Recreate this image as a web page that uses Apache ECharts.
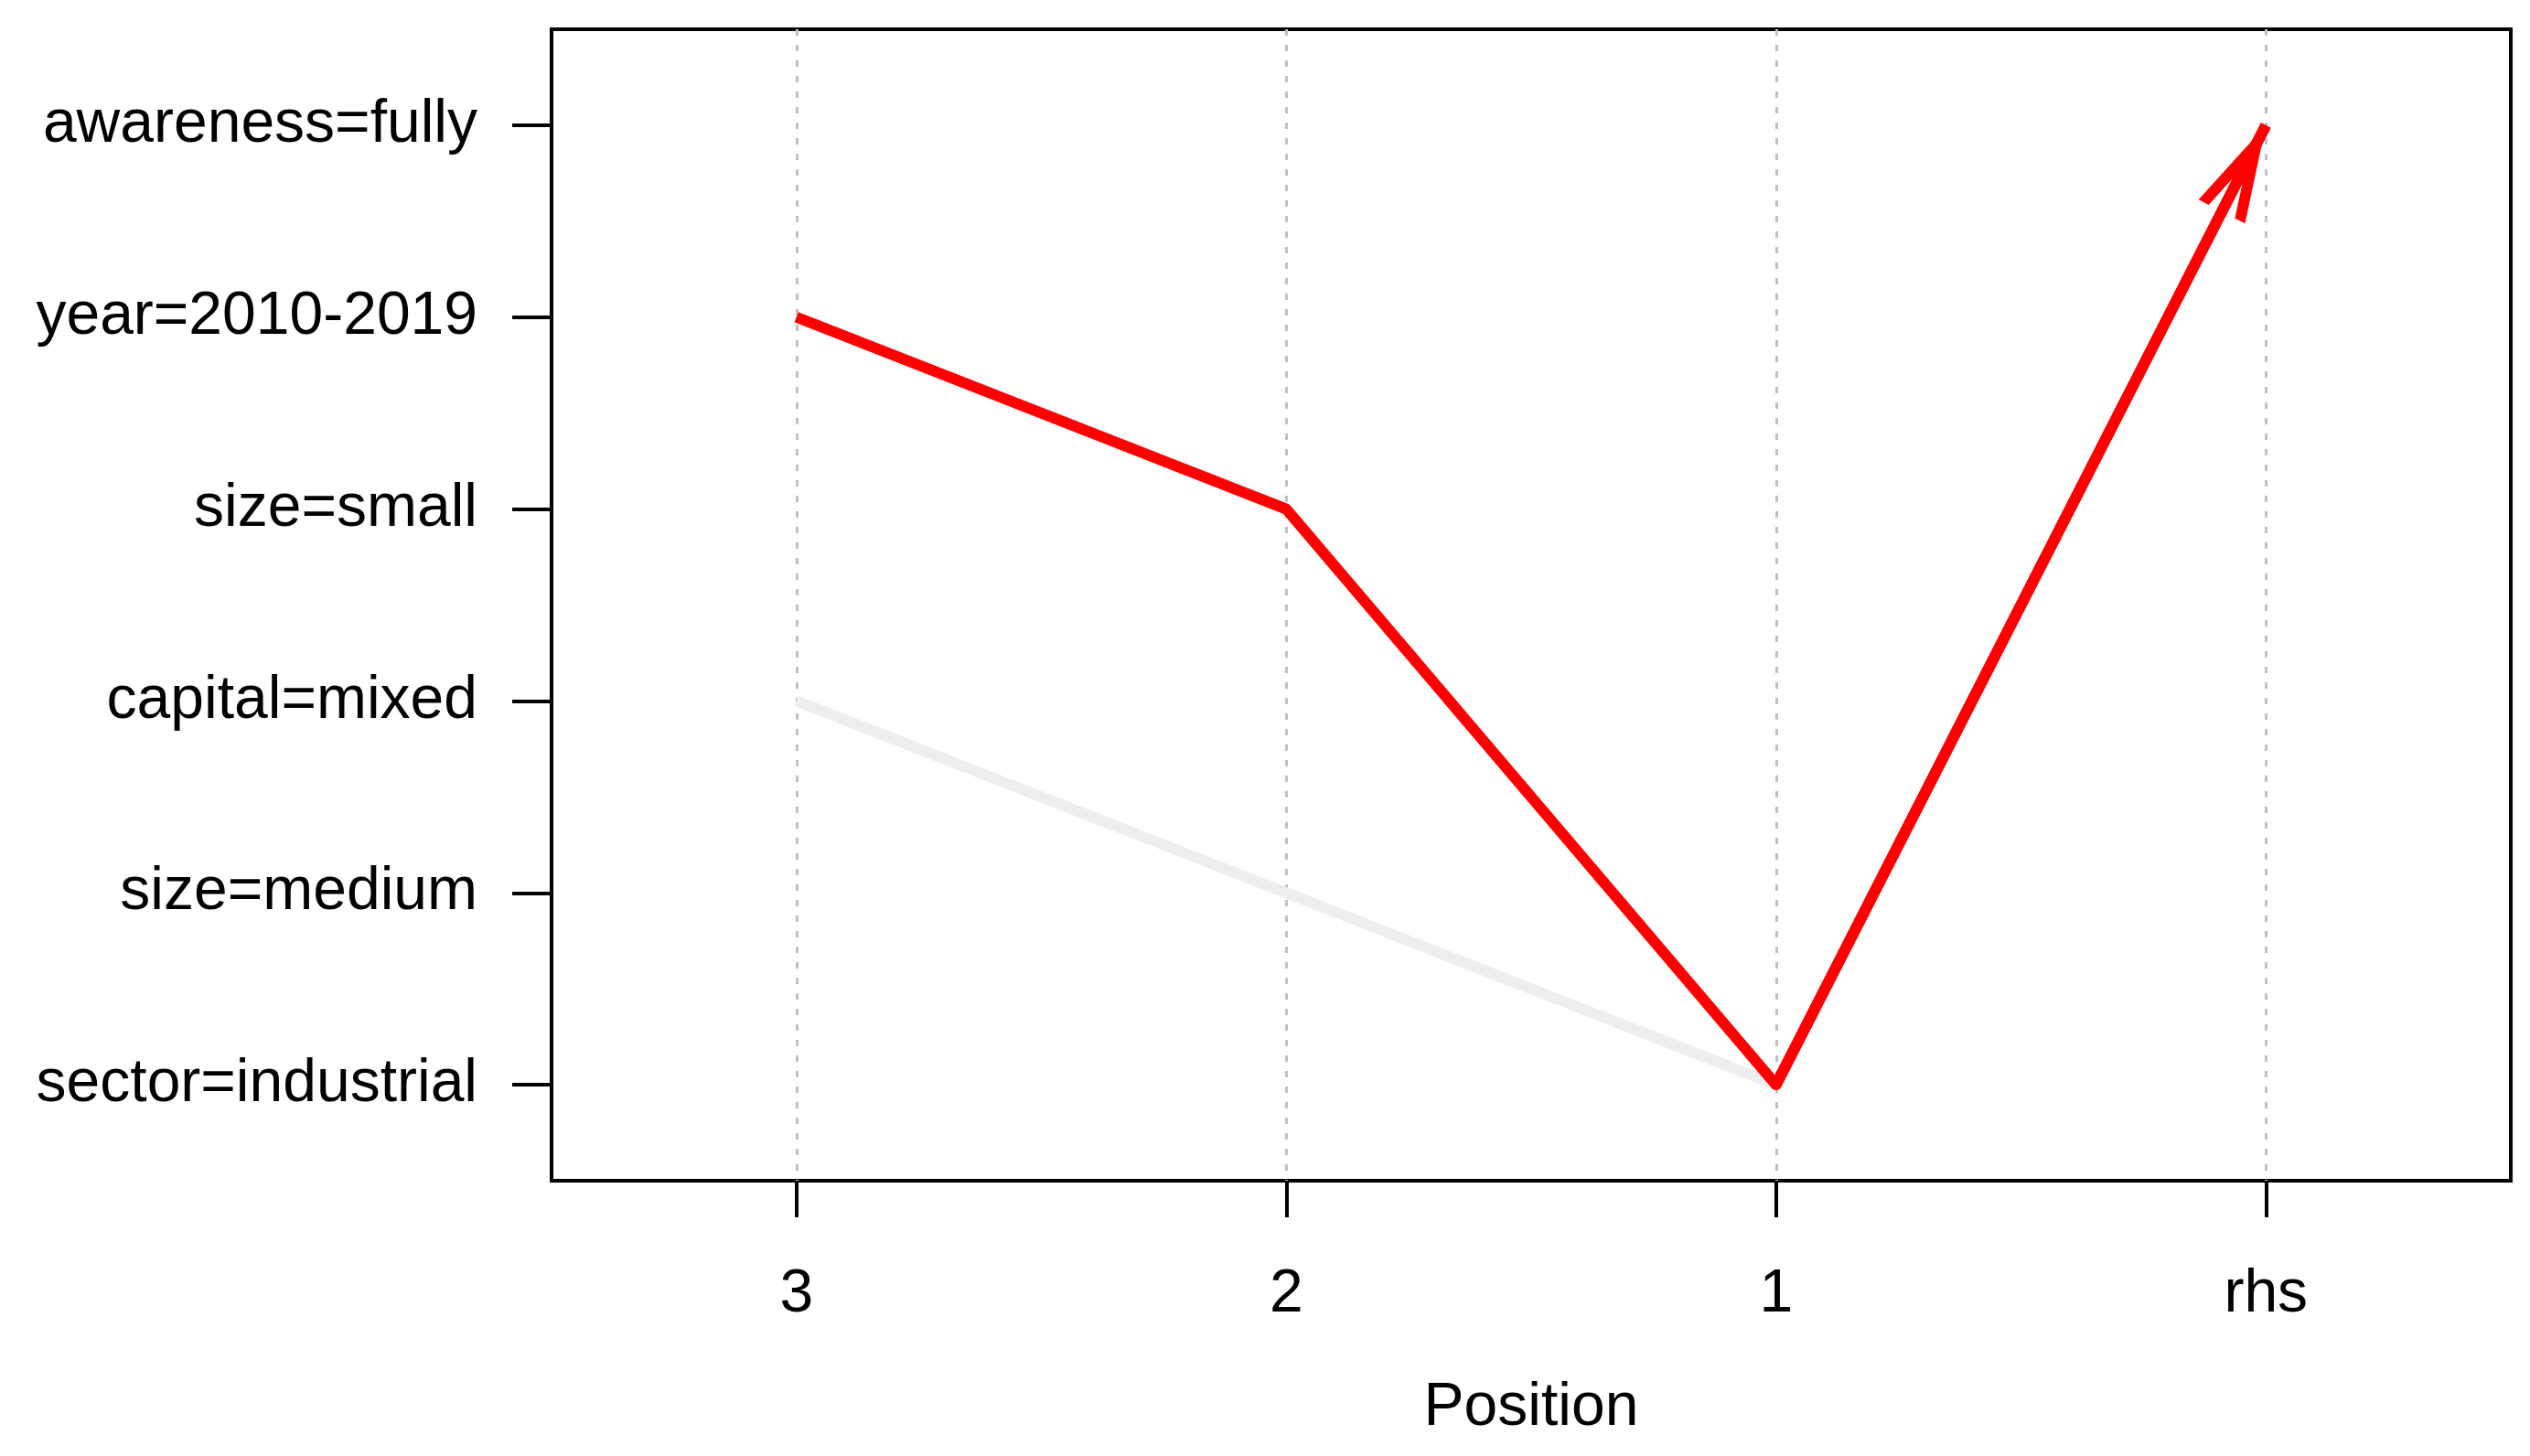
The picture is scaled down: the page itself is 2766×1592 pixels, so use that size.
<!DOCTYPE html>
<html>
<head>
<meta charset="utf-8">
<script src="https://cdn.jsdelivr.net/npm/echarts@6/dist/echarts.min.js"></script>
<style>
html,body{margin:0;padding:0;background:#fff;}
#chart{width:2766px;height:1592px;}
</style>
</head>
<body>
<div id="chart"></div>
<script>
// Data
var positions = ['3', '2', '1', 'rhs'];
var items = ['sector=industrial', 'size=medium', 'capital=mixed', 'size=small', 'year=2010-2019', 'awareness=fully'];
// highlighted rule (red)
var redPositions = ['3', '2', '1', 'rhs'];
var redItems = ['year=2010-2019', 'size=small', 'sector=industrial', 'awareness=fully'];
// faint rule (grey)
var greyPositions = ['3', '2', '1'];
var greyItems = ['capital=mixed', 'size=medium', 'sector=industrial'];
var xAxisTitle = 'Position';

function pairs(xs, ys) { return xs.map(function (x, i) { return [x, ys[i]]; }); }

var font = 'Liberation Sans, Arial, sans-serif';
var chart = echarts.init(document.getElementById('chart'), null, { renderer: 'canvas' });
var redData = pairs(redPositions, redItems);
var n = redData.length;
var arrowPath = 'path://M28.5,0 L57,106 L44.6,106 L28.5,46 L12.4,106 L0,106 Z';

chart.setOption({
  animation: false,
  backgroundColor: '#fff',
  grid: {
    left: 603, right: 21, top: 32, bottom: 301,
    show: true, borderColor: '#000', borderWidth: 4, backgroundColor: 'transparent'
  },
  xAxis: {
    type: 'category',
    data: positions,
    boundaryGap: true,
    axisLine: { show: false },
    axisTick: { show: true, alignWithLabel: true, inside: false, length: 40, lineStyle: { color: '#000', width: 4 } },
    axisLabel: { show: true, margin: 92, fontSize: 66, color: '#000', fontFamily: font },
    splitLine: { show: true, alignWithLabel: true, lineStyle: { color: '#C0C0C0', width: 3, type: [7, 10] } },
    name: xAxisTitle,
    nameLocation: 'middle',
    nameGap: 216,
    nameTextStyle: { fontSize: 66, color: '#000', fontFamily: font }
  },
  yAxis: {
    type: 'category',
    data: items,
    boundaryGap: true,
    axisLine: { show: false },
    axisTick: { show: true, alignWithLabel: true, inside: false, length: 43, lineStyle: { color: '#000', width: 4 } },
    axisLabel: { show: true, margin: 81, fontSize: 66, color: '#000', fontFamily: font, padding: [16, 0, 0, 0] },
    splitLine: { show: false }
  },
  series: [
    {
      type: 'line',
      z: 1,
      data: pairs(greyPositions, greyItems),
      showSymbol: false,
      symbol: 'none',
      lineStyle: { color: '#EEEEEE', width: 12 },
      silent: true
    },
    {
      type: 'line',
      z: 3,
      data: redData,
      showSymbol: false,
      symbol: 'none',
      lineStyle: { color: '#FF0000', width: 12, join: 'round' },
      silent: true,
      markLine: {
        silent: true,
        animation: false,
        symbol: ['none', arrowPath],
        label: { show: false },
        lineStyle: { color: '#FF0000', width: 12, type: 'solid' },
        emphasis: { disabled: true },
        data: [[
          { coord: redData[n - 2], symbol: 'none' },
          { coord: redData[n - 1], symbol: arrowPath, symbolSize: [57, 106], symbolOffset: [0, '50%'] }
        ]]
      }
    }
  ]
});
</script>
</body>
</html>
